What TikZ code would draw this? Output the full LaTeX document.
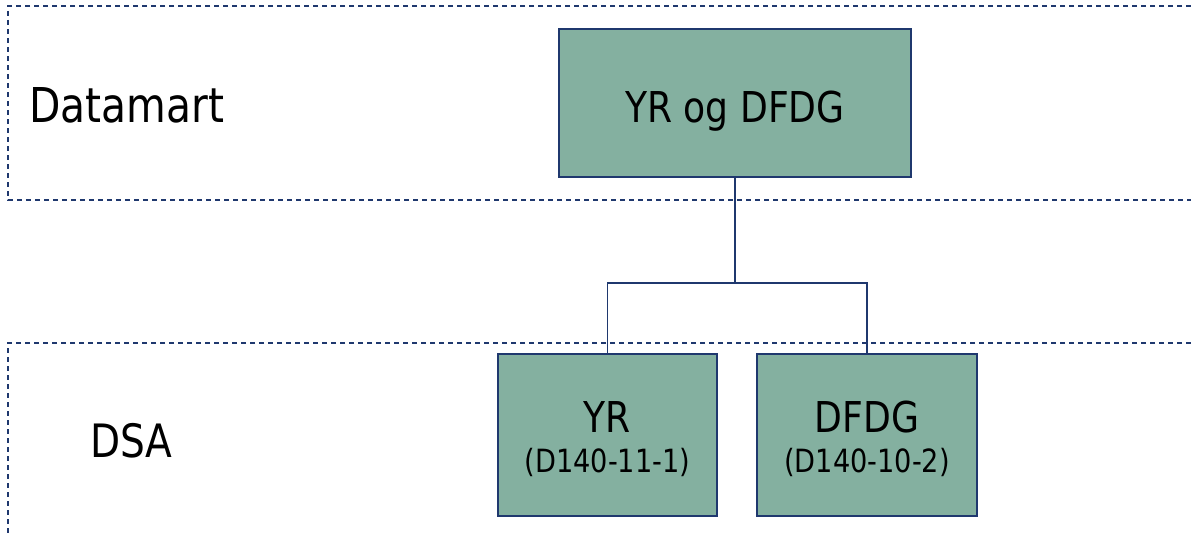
\documentclass[tikz,border=0pt]{standalone}
\usepackage{fontspec}
\setmainfont{DejaVu Sans}[FakeStretch=0.85]
\definecolor{navy}{RGB}{31,56,110}
\definecolor{boxfill}{RGB}{132,176,160}
\tikzset{
  band/.style={draw=navy, line width=1.3pt, dash pattern=on 5pt off 4pt},
  tablebox/.style={draw=navy, fill=boxfill, line width=1.5pt, inner sep=0pt, rectangle},
  link/.style={draw=navy, line width=1.5pt},
  big/.style={font=\fontsize{42.5}{48}\selectfont, inner sep=0pt, anchor=base},
  small/.style={font=\fontsize{32}{36}\selectfont, inner sep=0pt, anchor=base},
  layer/.style={font=\fontsize{48}{54}\selectfont, inner sep=0pt, anchor=base west}
}
\begin{document}
\begin{tikzpicture}[x=1pt,y=-1pt]
\useasboundingbox (0,0) rectangle (1191,533);
% layer bands
\draw[band] (1191,6) -- (8,6) -- (8,200) -- (1191,200);
\draw[band] (1191,343) -- (8,343) -- (8,533);
% layer labels
\node[layer] (lblDM) at (29,122) {Datamart};
\node[layer, font=\fontsize{46}{52}\selectfont] (lblDSA) at (90,457) {DSA};
% boxes
\node[tablebox, minimum width=352pt, minimum height=148pt] (top) at (735,103) {};
\node[tablebox, minimum width=219pt, minimum height=162pt] (yr) at (607.5,435) {};
\node[tablebox, minimum width=220pt, minimum height=162pt] (dfdg) at (867,435) {};
% box texts
\node[big] (tTop) at (735,122) {YR og DFDG};
\node[big] (tYR) at (607.5,432) {YR};
\node[small] (tYR2) at (607.5,472) {(D140-11-1)};
\node[big] (tDF) at (867,432) {DFDG};
\node[small] (tDF2) at (867,472) {(D140-10-2)};
% connectors
\coordinate (j) at (735,283);
\draw[link] (top.south) -- (j);
\draw[link] (yr.north) |- (j);
\draw[link] (dfdg.north) |- (j);
\end{tikzpicture}
\end{document}
